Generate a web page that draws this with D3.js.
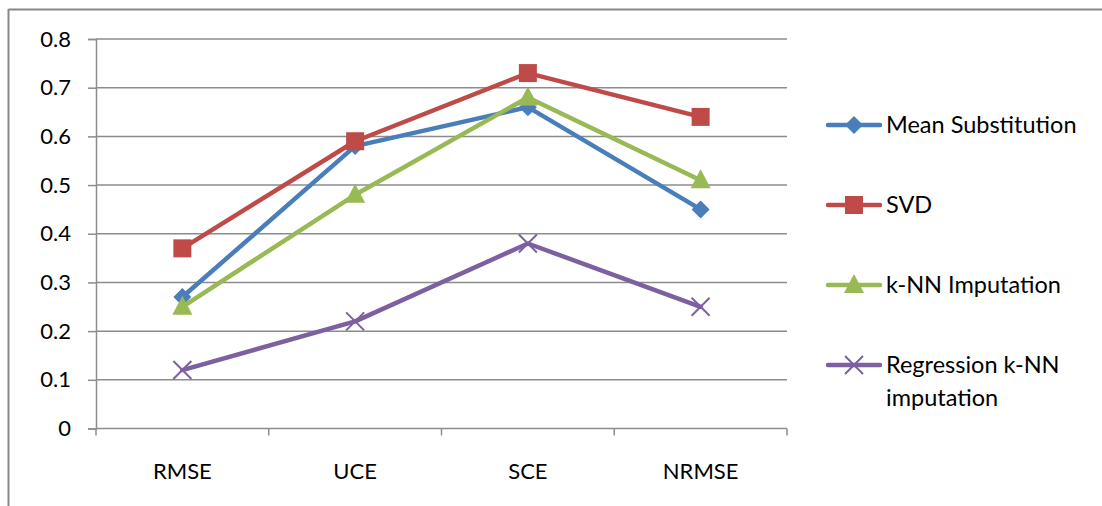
<!DOCTYPE html>
<html>
<head>
<meta charset="utf-8">
<script src="https://cdn.jsdelivr.net/npm/d3@7"></script>
<style>
  html, body { margin: 0; padding: 0; background: #fff; }
  svg { display: block; font-family: Lato, "Open Sans", sans-serif; }
</style>
</head>
<body>
<svg id="chart" width="1102" height="506"></svg>
<script>
const categories = ["RMSE", "UCE", "SCE", "NRMSE"];
const seriesNames = ["Mean Substitution", "SVD", "k-NN Imputation", "Regression k-NN imputation"];
const meanSubstitution = [0.27, 0.58, 0.66, 0.45];
const svd = [0.37, 0.59, 0.73, 0.64];
const knnImputation = [0.25, 0.48, 0.68, 0.51];
const regressionKnn = [0.12, 0.22, 0.38, 0.25];
const yTicks = [0, 0.1, 0.2, 0.3, 0.4, 0.5, 0.6, 0.7, 0.8];

const colors = ["#4A7EBB", "#BE4B48", "#98B954", "#7D60A0"];
const markers = ["diamond", "square", "triangle", "cross"];
const series = [meanSubstitution, svd, knnImputation, regressionKnn].map((values, i) => ({
  name: seriesNames[i], values, color: colors[i], marker: markers[i]
}));

const svg = d3.select("#chart");

// outer frame (top and left edges)
svg.append("line").attr("x1", 8.5).attr("x2", 1102).attr("y1", 9.5).attr("y2", 9.5)
  .attr("stroke", "#888").attr("stroke-width", 2);
svg.append("line").attr("x1", 8.5).attr("x2", 8.5).attr("y1", 9).attr("y2", 506)
  .attr("stroke", "#888").attr("stroke-width", 2);

const plotLeft = 96, plotRight = 787, plotTop = 39, plotBottom = 428.5;
const x = d3.scaleBand().domain(categories).range([plotLeft, plotRight]);
const y = d3.scaleLinear().domain([0, 0.8]).range([plotBottom, plotTop]);

// horizontal gridlines
svg.append("g").selectAll("line").data(yTicks.slice(1)).join("line")
  .attr("x1", plotLeft).attr("x2", plotRight)
  .attr("y1", d => y(d)).attr("y2", d => y(d))
  .attr("stroke", "#8c8c8c").attr("stroke-width", 1.5);

// y axis
const yAxis = svg.append("g").attr("transform", `translate(${plotLeft},0)`)
  .call(d3.axisLeft(y).tickValues(yTicks).tickFormat(d => d === 0 ? "0" : d3.format(".1f")(d)).tickSize(8).tickPadding(17));
yAxis.select(".domain").attr("stroke", "#8c8c8c").attr("stroke-width", 1.5);
yAxis.selectAll(".tick line").attr("stroke", "#8c8c8c").attr("stroke-width", 1.5);
yAxis.selectAll("text").attr("font-size", 22).attr("fill", "#000").attr("font-family", "Lato, 'Open Sans', sans-serif");

// x axis with tick marks on category boundaries
const xAxisG = svg.append("g").attr("transform", `translate(0,${plotBottom})`);
xAxisG.append("line").attr("x1", plotLeft).attr("x2", plotRight).attr("stroke", "#8c8c8c").attr("stroke-width", 1.5);
const bounds = categories.map(c => x(c)).concat([x(categories[categories.length - 1]) + x.bandwidth()]);
xAxisG.selectAll("line.tk").data(bounds).join("line").attr("class", "tk")
  .attr("x1", d => d).attr("x2", d => d).attr("y1", 0).attr("y2", 7)
  .attr("stroke", "#8c8c8c").attr("stroke-width", 1.5);
xAxisG.selectAll("text").data(categories).join("text")
  .attr("x", d => x(d) + x.bandwidth() / 2).attr("y", 50)
  .attr("text-anchor", "middle").attr("font-size", 22).attr("fill", "#000").text(d => d);

const cx = c => x(c) + x.bandwidth() / 2;

function drawMarker(g, type, color) {
  if (type === "diamond") {
    g.append("path").attr("d", "M0,-9L9,0L0,9L-9,0Z").attr("fill", color);
  } else if (type === "square") {
    g.append("rect").attr("x", -9).attr("y", -9).attr("width", 18).attr("height", 18).attr("fill", color);
  } else if (type === "triangle") {
    g.append("path").attr("d", "M0,-11L10,8L-10,8Z").attr("fill", color);
  } else {
    g.append("path").attr("d", "M-9,-9L9,9M-9,9L9,-9").attr("stroke", color).attr("stroke-width", 2).attr("fill", "none");
  }
}

const line = d3.line().x((d, i) => cx(categories[i])).y(d => y(d));

series.forEach(s => {
  svg.append("path").datum(s.values).attr("d", line)
    .attr("fill", "none").attr("stroke", s.color).attr("stroke-width", 4.5)
    .attr("stroke-linejoin", "round").attr("stroke-linecap", "round");
  s.values.forEach((v, i) => {
    const g = svg.append("g").attr("transform", `translate(${cx(categories[i])},${y(v)})`);
    drawMarker(g, s.marker, s.color);
  });
});

// legend
const legendY = [125, 205, 285, 365];
series.forEach((s, i) => {
  const g = svg.append("g").attr("transform", `translate(828,${legendY[i]})`);
  g.append("line").attr("x1", 0).attr("x2", 52).attr("stroke", s.color).attr("stroke-width", 4.5).attr("stroke-linecap", "round");
  const m = g.append("g").attr("transform", "translate(26,0)");
  drawMarker(m, s.marker, s.color);
  const words = s.name === "Regression k-NN imputation" ? ["Regression k-NN", "imputation"] : [s.name];
  words.forEach((w, j) => {
    g.append("text").attr("x", 58).attr("y", 8 + j * 33).attr("font-size", 23.5).attr("fill", "#000").text(w);
  });
});
</script>
</body>
</html>
